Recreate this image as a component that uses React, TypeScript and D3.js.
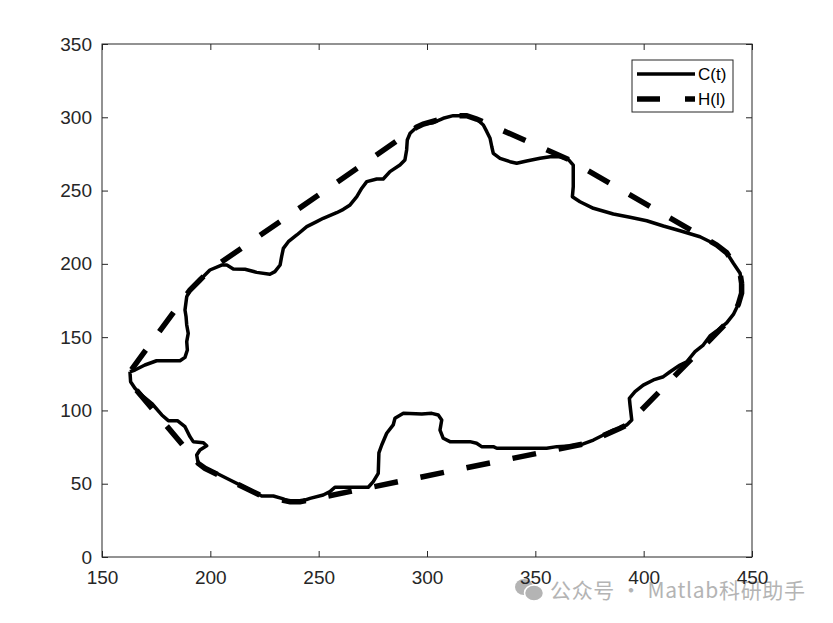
import React, { useEffect, useRef } from "react";
import * as d3 from "d3";

// contour C(t) (x, y in data units)
const contourPoints: [number, number][] = [
  [162.9, 126.4], [165.2, 127.6], [169.8, 131.0], [175.2, 133.9], [186.0, 133.9], [188.3, 136.2],
  [189.4, 141.2], [189.1, 146.9], [189.8, 152.6], [189.1, 158.3], [188.8, 163.9], [188.3, 168.5],
  [189.1, 177.6], [190.6, 182.2], [195.2, 189.0], [199.8, 195.8], [205.2, 199.2], [207.6, 199.2],
  [210.6, 196.5], [216.0, 196.3], [221.4, 194.2], [227.5, 192.9], [229.8, 194.7], [232.2, 199.2],
  [232.9, 204.9], [233.7, 210.6], [236.0, 215.1], [239.9, 219.7], [244.5, 225.4], [249.1, 228.8],
  [252.1, 231.1], [258.3, 234.9], [261.4, 237.2], [264.5, 240.2], [267.6, 245.8], [269.9, 251.6],
  [272.2, 256.1], [276.8, 257.9], [279.8, 257.9], [282.9, 262.9], [287.5, 267.4], [289.8, 270.9],
  [290.6, 277.7], [290.9, 284.5], [292.2, 289.1], [295.2, 293.2], [298.3, 295.4], [302.9, 296.3],
  [307.5, 299.3], [312.1, 301.1], [318.3, 301.1], [322.9, 298.8], [326.0, 294.7], [327.6, 290.2],
  [329.1, 285.7], [329.9, 279.9], [330.6, 275.4], [333.7, 272.0], [338.3, 269.7], [341.4, 268.6],
  [346.0, 270.2], [352.2, 272.0], [356.8, 273.1], [361.4, 273.1], [365.2, 271.3], [367.5, 267.4],
  [367.5, 252.6], [367.1, 245.8], [370.6, 242.4], [376.8, 237.9], [386.0, 234.0], [393.7, 231.8],
  [401.4, 229.4], [409.1, 225.8], [416.8, 222.6], [426.0, 218.5], [433.7, 212.9], [438.3, 207.6],
  [441.4, 200.4], [444.5, 193.6], [445.2, 186.7], [445.2, 180.0], [443.7, 172.4], [441.4, 165.5],
  [438.3, 159.8], [433.7, 154.2], [430.6, 150.8], [427.5, 144.6], [423.7, 140.1], [419.9, 133.2],
  [416.8, 131.0], [412.2, 126.4], [409.1, 123.0], [404.5, 120.8], [399.8, 117.3], [396.0, 112.8],
  [393.4, 108.3], [393.7, 103.7], [394.5, 93.5], [392.2, 90.1], [389.1, 87.8], [386.0, 86.6],
  [381.4, 83.2], [376.8, 79.8], [372.1, 77.1], [366.0, 75.7], [359.9, 75.3], [355.2, 74.2],
  [350.6, 74.2], [332.2, 74.2], [330.6, 75.3], [325.2, 75.3], [322.9, 77.6], [319.8, 78.7],
  [310.6, 78.7], [307.5, 81.0], [306.0, 86.6], [306.8, 93.5], [305.2, 96.9], [302.2, 98.0],
  [297.6, 97.6], [289.1, 98.0], [285.2, 94.6], [284.4, 90.1], [281.4, 84.4], [279.1, 76.4],
  [277.8, 71.0], [277.5, 57.1], [275.2, 51.4], [272.9, 47.6], [257.5, 47.6], [255.2, 44.6],
  [252.1, 42.3], [246.0, 40.0], [241.4, 37.7], [236.8, 37.7], [232.9, 40.0], [229.1, 41.6],
  [223.7, 41.6], [219.8, 44.6], [215.2, 48.0], [209.1, 52.5], [202.9, 57.1], [197.5, 60.5],
  [194.4, 63.9], [193.7, 69.6], [195.2, 73.0], [198.3, 75.9], [196.8, 78.0], [192.1, 78.7],
  [190.6, 82.1], [188.3, 88.9], [184.8, 93.0], [180.6, 93.0], [177.6, 96.9], [172.9, 104.9],
  [168.3, 110.5], [165.2, 115.1], [163.2, 119.6],
];

const xTicks = [150, 200, 250, 300, 350, 400, 450];
const yTicks = [0, 50, 100, 150, 200, 250, 300, 350];
const seriesNames = ["C(t)", "H(l)"];
const watermark = "公众号 · Matlab科研助手";

const axisColor = "#262626";
const font = "'Liberation Sans', Arial, Helvetica, sans-serif";

const App: React.FC = () => {
  const ref = useRef<SVGSVGElement>(null);

  useEffect(() => {
    if (!ref.current) return;
    const svg = d3.select(ref.current);
    svg.selectAll("*").remove();

    const width = 833;
    const height = 623;
    const margin = { top: 44, right: 81, bottom: 66, left: 102 };

    svg.attr("width", width).attr("height", height);

    const x = d3.scaleLinear().domain([150, 450]).range([margin.left, width - margin.right]);
    const y = d3.scaleLinear().domain([0, 350]).range([height - margin.bottom, margin.top]);

    // watermark sits behind everything
    const wm = svg.append("g").attr("fill", "#b4b4b4");
    wm.append("ellipse").attr("cx", 524).attr("cy", 587).attr("rx", 9).attr("ry", 8);
    wm.append("ellipse").attr("cx", 534).attr("cy", 593).attr("rx", 9.5).attr("ry", 8)
      .attr("stroke", "#fff").attr("stroke-width", 1.5);
    wm.append("text")
      .attr("x", 550).attr("y", 598)
      .attr("font-family", "'Noto Sans CJK SC', 'Noto Sans', sans-serif")
      .attr("font-size", 21)
      .attr("textLength", 255)
      .attr("lengthAdjust", "spacing")
      .text(watermark);

    // plot box
    svg.append("rect")
      .attr("x", x(150)).attr("y", y(350))
      .attr("width", x(450) - x(150)).attr("height", y(0) - y(350))
      .attr("fill", "none").attr("stroke", axisColor).attr("stroke-width", 1);

    const styleAxis = (g: d3.Selection<SVGGElement, unknown, null, undefined>) => {
      g.select(".domain").remove();
      g.selectAll(".tick line").attr("stroke", axisColor);
      g.selectAll(".tick text").attr("fill", axisColor);
      g.attr("font-family", font).attr("font-size", 19);
    };

    svg.append("g")
      .attr("transform", `translate(0,${y(0)})`)
      .call(d3.axisBottom(x).tickValues(xTicks).tickSize(-6).tickPadding(14))
      .call(styleAxis);
    svg.append("g")
      .attr("transform", `translate(${x(150)},0)`)
      .call(d3.axisLeft(y).tickValues(yTicks).tickSize(-6).tickPadding(10))
      .call(styleAxis);
    svg.append("g")
      .attr("transform", `translate(0,${y(350)})`)
      .call(d3.axisTop(x).tickValues(xTicks).tickSize(-6).tickFormat(() => ""))
      .call(styleAxis);
    svg.append("g")
      .attr("transform", `translate(${x(450)},0)`)
      .call(d3.axisRight(y).tickValues(yTicks).tickSize(-6).tickFormat(() => ""))
      .call(styleAxis);

    const line = d3.line<[number, number]>()
      .x(d => x(d[0]))
      .y(d => y(d[1]));

    // convex hull H(l) of the contour
    const hull = d3.polygonHull(contourPoints) || [];

    svg.append("path")
      .datum([...contourPoints, contourPoints[0]])
      .attr("d", line)
      .attr("fill", "none")
      .attr("stroke", "#000")
      .attr("stroke-width", 3.5)
      .attr("stroke-linejoin", "round");

    svg.append("path")
      .datum([...hull, hull[0]] as [number, number][])
      .attr("d", line)
      .attr("fill", "none")
      .attr("stroke", "#000")
      .attr("stroke-width", 5.5)
      .attr("stroke-dasharray", "24 23");

    // legend
    const lg = svg.append("g").attr("transform", `translate(${x(450) - 120},${y(350) + 16})`);
    lg.append("rect")
      .attr("x", 0).attr("y", 0).attr("width", 101).attr("height", 52)
      .attr("fill", "#fff").attr("stroke", axisColor).attr("stroke-width", 1);
    seriesNames.forEach((name, i) => {
      const ly = 14 + i * 25;
      lg.append("line")
        .attr("x1", 5).attr("x2", 63).attr("y1", ly).attr("y2", ly)
        .attr("stroke", "#000")
        .attr("stroke-width", i === 0 ? 3.5 : 5.5)
        .attr("stroke-dasharray", i === 0 ? null : "23 25");
      lg.append("text")
        .attr("x", 66).attr("y", ly).attr("dy", "0.36em")
        .attr("font-family", font).attr("font-size", 17)
        .attr("fill", "#000")
        .text(name);
    });
  }, []);

  return <svg ref={ref} style={{ position: "absolute", left: 0, top: 0, background: "#fff" }} />;
};

export default App;
